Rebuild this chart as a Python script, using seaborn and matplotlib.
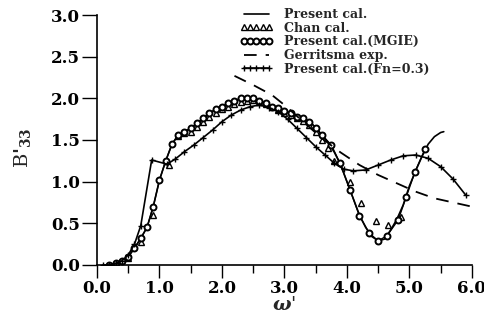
import matplotlib
matplotlib.use("Agg")
import matplotlib.pyplot as plt
import seaborn as sns
import numpy as np
from matplotlib.ticker import MultipleLocator

# ---- data ----
w_present = [0.1, 0.2, 0.3, 0.4, 0.5, 0.6, 0.7, 0.8, 0.9, 1.0, 1.1, 1.2, 1.3, 1.4, 1.5, 1.6, 1.7, 1.8,
             1.9, 2.0, 2.1, 2.2, 2.3, 2.4, 2.5, 2.6, 2.7, 2.8, 2.9, 3.0, 3.1, 3.2, 3.3, 3.4, 3.5, 3.6,
             3.7, 3.8, 3.9, 4.0, 4.1, 4.2, 4.3, 4.4, 4.5, 4.6, 4.7, 4.8, 4.9, 5.0, 5.1, 5.2, 5.3, 5.4,
             5.5, 5.55]
b_present = [0.0, 0.0, 0.02, 0.05, 0.1, 0.2, 0.32, 0.45, 0.7, 1.02, 1.25, 1.45, 1.56, 1.6, 1.64, 1.7,
             1.76, 1.82, 1.87, 1.9, 1.94, 1.97, 2.0, 2.01, 2.0, 1.97, 1.94, 1.9, 1.88, 1.85, 1.82, 1.78,
             1.76, 1.72, 1.65, 1.56, 1.47, 1.35, 1.2, 1.0, 0.8, 0.6, 0.45, 0.34, 0.29, 0.31, 0.42, 0.55,
             0.72, 0.95, 1.13, 1.3, 1.45, 1.54, 1.59, 1.6]

w_mgie = [0.2, 0.3, 0.4, 0.5, 0.6, 0.7, 0.8, 0.9, 1.0, 1.1, 1.2, 1.3, 1.4, 1.5, 1.6, 1.7, 1.8, 1.9,
          2.0, 2.1, 2.2, 2.3, 2.4, 2.5, 2.6, 2.7, 2.8, 2.9, 3.0, 3.1, 3.2, 3.3, 3.4, 3.5, 3.6, 3.75,
          3.89, 4.05, 4.2, 4.36, 4.5, 4.64, 4.82, 4.95, 5.09, 5.25]
b_mgie = [0.0, 0.02, 0.05, 0.1, 0.2, 0.32, 0.45, 0.7, 1.02, 1.25, 1.45, 1.56, 1.6, 1.64, 1.7, 1.76,
          1.82, 1.87, 1.9, 1.94, 1.97, 2.0, 2.01, 2.0, 1.97, 1.94, 1.9, 1.88, 1.85, 1.82, 1.78, 1.76,
          1.72, 1.65, 1.56, 1.44, 1.22, 0.9, 0.59, 0.38, 0.29, 0.35, 0.54, 0.82, 1.12, 1.39]

w_chan = [0.3, 0.5, 0.7, 0.9, 1.15, 1.3, 1.4, 1.5, 1.6, 1.7, 1.8, 1.9, 2.0, 2.1, 2.2, 2.3, 2.4, 2.5,
          2.6, 2.7, 2.8, 2.9, 3.0, 3.1, 3.2, 3.3, 3.4, 3.5, 3.6, 3.7, 3.8, 4.05, 4.23, 4.46, 4.66, 4.87]
b_chan = [0.02, 0.08, 0.28, 0.6, 1.2, 1.55, 1.58, 1.6, 1.66, 1.72, 1.78, 1.83, 1.87, 1.9, 1.93, 1.96,
          1.97, 1.98, 1.96, 1.93, 1.9, 1.86, 1.83, 1.8, 1.77, 1.73, 1.68, 1.6, 1.5, 1.4, 1.25, 1.0,
          0.74, 0.53, 0.48, 0.58]

w_exp = [2.2, 2.5, 2.8, 3.0, 3.3, 3.6, 3.9, 4.2, 4.5, 4.8, 5.1, 5.4, 5.7, 6.0]
b_exp = [2.27, 2.16, 2.04, 1.92, 1.72, 1.52, 1.35, 1.2, 1.08, 0.98, 0.88, 0.8, 0.75, 0.7]

w_fn = [0.1, 0.2, 0.3, 0.4, 0.5, 0.6, 0.7, 0.875, 1.12, 1.25, 1.4, 1.55, 1.7, 1.85, 2.0, 2.15, 2.3,
        2.45, 2.6, 2.75, 2.9, 3.05, 3.2, 3.35, 3.5, 3.65, 3.8, 3.95, 4.1, 4.3, 4.5, 4.7, 4.9, 5.1,
        5.3, 5.5, 5.7, 5.9]
b_fn = [0.0, 0.0, 0.02, 0.05, 0.12, 0.25, 0.47, 1.26, 1.21, 1.27, 1.36, 1.44, 1.53, 1.62, 1.72, 1.8,
        1.86, 1.9, 1.92, 1.89, 1.84, 1.75, 1.64, 1.53, 1.42, 1.32, 1.22, 1.15, 1.13, 1.14, 1.2, 1.26,
        1.31, 1.32, 1.28, 1.18, 1.03, 0.84]

labels = ["Present cal.", "Chan cal.", "Present cal.(MGIE)", "Gerritsma exp.", "Present cal.(Fn=0.3)"]

# ---- style ----
sns.set_style("ticks")
plt.rcParams['font.family'] = ['DejaVu Serif']
plt.rcParams['font.weight'] = 'bold'
plt.rcParams['mathtext.fontset'] = 'dejavuserif'

fig = plt.figure(figsize=(4.85, 3.2), dpi=100)
ax = fig.add_axes([0.2, 0.172, 0.773, 0.781])

sns.lineplot(x=w_present, y=b_present, ax=ax, color='black', lw=1.2, sort=False,
             label=labels[0])
sns.lineplot(x=w_chan, y=b_chan, ax=ax, color='black', lw=0, marker='^', markersize=4,
             markerfacecolor='white', markeredgecolor='black', markeredgewidth=1.0,
             sort=False, label=labels[1])
sns.lineplot(x=w_mgie, y=b_mgie, ax=ax, color='black', lw=1.0, marker='o', markersize=4.3,
             markerfacecolor='white', markeredgecolor='black', markeredgewidth=1.4,
             sort=False, label=labels[2])
sns.lineplot(x=w_exp, y=b_exp, ax=ax, color='black', lw=1.3, sort=False,
             label=labels[3])
ax.lines[-1].set_dashes([7, 5])
sns.lineplot(x=w_fn, y=b_fn, ax=ax, color='black', lw=1.2, marker='+', markersize=5,
             markeredgecolor='black', markeredgewidth=1.0, sort=False, label=labels[4])

ax.set_xlim(0, 6.0)
ax.set_ylim(0, 3.0)
ax.xaxis.set_major_locator(MultipleLocator(1.0))
ax.xaxis.set_minor_locator(MultipleLocator(0.5))
ax.yaxis.set_major_locator(MultipleLocator(0.5))
ax.xaxis.set_major_formatter(matplotlib.ticker.FormatStrFormatter('%.1f'))
ax.yaxis.set_major_formatter(matplotlib.ticker.FormatStrFormatter('%.1f'))
ax.tick_params(axis='both', which='both', direction='out', width=1.0, colors='black',
               labelsize=12, pad=2)
ax.tick_params(axis='y', which='major', length=10.5)
ax.tick_params(axis='x', which='major', length=9)
ax.tick_params(axis='x', which='minor', length=6)
for s in ['top', 'right']:
    ax.spines[s].set_visible(False)
for s in ['left', 'bottom']:
    ax.spines[s].set_linewidth(1.2)
    ax.spines[s].set_color('black')

ax.set_xlabel(r"$\omega$'", fontsize=14)
ax.xaxis.set_label_coords(0.5, -0.125)
ax.set_ylabel(r"B$'_{33}$", fontsize=14)
ax.yaxis.set_label_coords(-0.17, 0.47)

leg = ax.legend(loc='upper left', bbox_to_anchor=(0.495, 0.975), bbox_transform=fig.transFigure,
                frameon=False, fontsize=9, handlelength=2.6, handletextpad=0.9,
                labelspacing=0.05, borderpad=0, borderaxespad=0, numpoints=5)
for t in leg.get_texts():
    t.set_fontweight('bold')

fig.savefig("out.png", dpi=100)
